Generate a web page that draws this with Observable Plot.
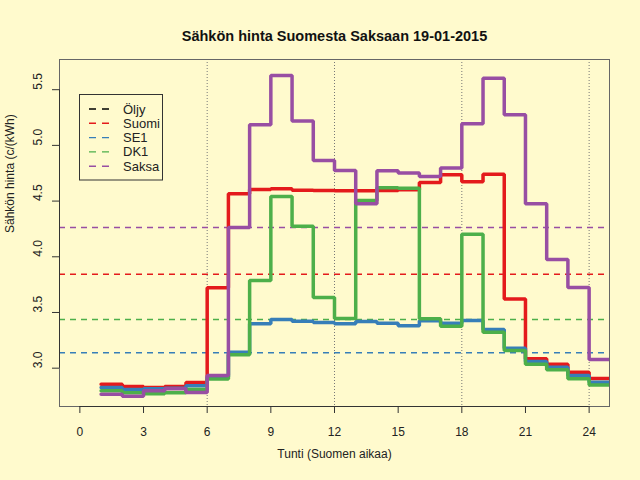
<!DOCTYPE html>
<html>
<head>
<meta charset="utf-8">
<script src="https://cdn.jsdelivr.net/npm/d3@7"></script>
<script src="https://cdn.jsdelivr.net/npm/@observablehq/plot@0.6"></script>
<style>
  html, body { margin: 0; padding: 0; background: #FFFACD; }
  #chart svg { display: block; }
</style>
</head>
<body>
<div id="chart"></div>
<script>
const title = "Sähkön hinta Suomesta Saksaan 19-01-2015";
const xLabel = "Tunti (Suomen aikaa)";
const yLabel = "Sähkön hinta (c/(kWh)";

const hours = [1,2,3,4,5,6,7,8,9,10,11,12,13,14,15,16,17,18,19,20,21,22,23,24];
const suomi = [2.856,2.836,2.827,2.836,2.872,3.722,4.565,4.604,4.610,4.598,4.595,4.592,4.592,4.595,4.601,4.667,4.736,4.673,4.742,3.620,3.084,3.036,2.964,2.908];
const se1   = [2.827,2.809,2.815,2.820,2.842,2.920,3.144,3.398,3.437,3.422,3.410,3.398,3.419,3.404,3.380,3.425,3.404,3.428,3.347,3.180,3.060,3.009,2.934,2.874];
const dk1   = [2.797,2.779,2.770,2.779,2.809,2.902,3.120,3.787,4.541,4.275,3.635,3.446,4.505,4.619,4.616,3.443,3.377,4.203,3.323,3.159,3.036,2.985,2.905,2.850];
const saksa = [2.767,2.749,2.797,2.815,2.782,2.934,4.263,5.185,5.627,5.218,4.864,4.775,4.476,4.772,4.751,4.721,4.796,5.194,5.603,5.275,4.476,3.976,3.724,3.078];

const seriesNames = ["Suomi", "SE1", "DK1", "Saksa"];
const seriesColors = ["#E41A1C", "#377EB8", "#4DAF4A", "#984EA3"];
const averages = [3.844, 3.138, 3.437, 4.263];

const legendNames = ["Öljy", "Suomi", "SE1", "DK1", "Saksa"];
const legendColors = ["#000000", "#E41A1C", "#377EB8", "#4DAF4A", "#984EA3"];

const xTicks = [0,3,6,9,12,15,18,21,24];
const yTicks = [3.0,3.5,4.0,4.5,5.0,5.5];
const gridHours = [6,12,18,24];

const xDomain = [-0.96, 24.96];
const yDomain = [2.656, 5.771];

const valuesList = [suomi, se1, dk1, saksa];
const lineData = [];
valuesList.forEach((vals, k) => {
  hours.forEach((h, i) => lineData.push({h, v: vals[i], s: seriesNames[k]}));
  lineData.push({h: hours[hours.length - 1] + 1, v: vals[vals.length - 1], s: seriesNames[k]});
});
const avgData = averages.map((v, k) => ({v, s: seriesNames[k]}));

const font = "'Liberation Sans', Arial, Helvetica, sans-serif";

const chart = Plot.plot({
  width: 640,
  height: 480,
  marginLeft: 59,
  marginRight: 31,
  marginTop: 59,
  marginBottom: 74,
  style: {background: "#FFFACD", fontFamily: font, fontSize: "12px", color: "#222"},
  x: {domain: xDomain, axis: null},
  y: {domain: yDomain, axis: null},
  color: {domain: seriesNames, range: seriesColors},
  marks: [
    Plot.ruleX(gridHours, {stroke: "#777", strokeDasharray: "1,2", strokeWidth: 1}),
    Plot.ruleY(avgData, {y: "v", stroke: "s", strokeDasharray: "6,5", strokeWidth: 1.5}),
    Plot.line(lineData, {x: "h", y: "v", z: "s", stroke: "s", curve: "step-after", strokeWidth: 3.5, strokeLinejoin: "miter", clip: true}),
    Plot.frame({stroke: "#666"}),
    Plot.ruleX([xDomain[0]], {y1: yTicks[0], y2: yTicks[yTicks.length - 1], stroke: "#333"}),
    Plot.ruleY([yDomain[0]], {x1: xTicks[0], x2: xTicks[xTicks.length - 1], stroke: "#333"}),
    Plot.axisX({ticks: xTicks, tickSize: 7, tickPadding: 14, fontSize: 12, label: null, stroke: "#333", fill: "#222"}),
    Plot.axisY({ticks: yTicks, tickSize: 7, tickFormat: () => "", label: null, stroke: "#333"}),
    Plot.text(yTicks, {y: d => d, text: d => d.toFixed(1), frameAnchor: "left", dx: -21, rotate: -90, fontSize: 12, fill: "#222"}),
    Plot.text([title], {frameAnchor: "top", dy: -29, fontSize: 14.5, fontWeight: "bold", fill: "#111"}),
    Plot.text([xLabel], {frameAnchor: "bottom", dy: 51, fontSize: 12, fill: "#222"}),
    Plot.text([yLabel], {frameAnchor: "left", dx: -49, rotate: -90, fontSize: 12, fill: "#222"})
  ]
});

document.getElementById("chart").appendChild(chart);

// Legend inside the plot
const svg = d3.select(chart);
const lg = svg.append("g").attr("font-family", font).attr("font-size", 13).attr("text-anchor", "start");
lg.append("rect").attr("x", 79.5).attr("y", 94.5).attr("width", 83).attr("height", 85.5)
  .attr("fill", "none").attr("stroke", "#333");
legendNames.forEach((name, i) => {
  const y = 109 + i * 14.3;
  lg.append("line").attr("x1", 89).attr("x2", 109).attr("y1", y).attr("y2", y)
    .attr("stroke", legendColors[i]).attr("stroke-width", 1.4).attr("stroke-dasharray", "7,6");
  lg.append("text").attr("x", 123).attr("y", y).attr("dy", "0.35em").attr("text-anchor", "start")
    .attr("fill", "#222").text(name);
});
</script>
</body>
</html>
